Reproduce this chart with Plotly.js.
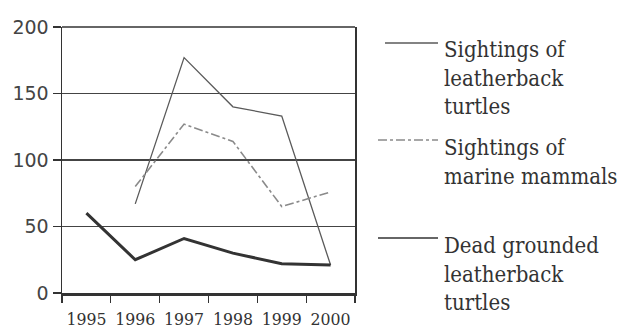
<!DOCTYPE html>
<html>
<head>
<meta charset="utf-8">
<script src="https://cdn.plot.ly/plotly-3.0.1.min.js"></script>
<style>html,body{margin:0;padding:0;background:#fff;}#chart{width:619px;height:335px;}</style>
</head>
<body>
<div id="chart"></div>
<script>
var years = ['1995', '1996', '1997', '1998', '1999', '2000'];
var leatherbackSightings = [null, 67, 177, 140, 133, 21];
var marineMammalSightings = [null, 80, 127, 114, 65, 76];
var deadGroundedTurtles = [60, 25, 41, 30, 22, 21];
var yTicks = [0, 50, 100, 150, 200];
var legendNames = [
  'Sightings of<br>leatherback<br>turtles',
  'Sightings of<br>marine mammals',
  'Dead grounded<br>leatherback<br>turtles'
];

var serif = '"DejaVu Serif Condensed", "DejaVu Serif", serif';
var traces = [
  {x: years, y: leatherbackSightings, type: 'scatter', mode: 'lines', name: legendNames[0],
   line: {color: '#5a5a5a', width: 1.3}, connectgaps: false},
  {x: years, y: marineMammalSightings, type: 'scatter', mode: 'lines', name: legendNames[1],
   line: {color: '#8a8a8a', width: 1.6, dash: 'dashdot'}},
  {x: years, y: deadGroundedTurtles, type: 'scatter', mode: 'lines', name: legendNames[2],
   line: {color: '#333', width: 3}}
];

// legend geometry helpers (pixel -> paper)
var L = 62, R = 355, T = 27, B = 293;
function px(x) { return (x - L) / (R - L); }
function py(y) { return (B - y) / (B - T); }

var legendSamples = [
  {x0: 385, x1: 438, y: 43, color: '#5a5a5a', width: 1.3, dash: 'solid'},
  {x0: 378, x1: 438, y: 140, color: '#8a8a8a', width: 1.4, dash: 'dashdot'},
  {x0: 378, x1: 438, y: 238, color: '#333', width: 1.5, dash: 'solid'}
];
var legendTextTop = [35, 133, 231];

var shapes = [
  {type: 'line', xref: 'paper', yref: 'paper', x0: 0, x1: 1, y0: 1, y1: 1,
   line: {color: '#333', width: 1.5}}
];
legendSamples.forEach(function (s) {
  shapes.push({type: 'line', xref: 'paper', yref: 'paper', x0: px(s.x0), x1: px(s.x1),
    y0: py(s.y), y1: py(s.y), line: {color: s.color, width: s.width, dash: s.dash}});
});
var annotations = legendNames.map(function (n, i) {
  return {xref: 'paper', yref: 'paper', x: px(442), y: py(legendTextTop[i]),
    xanchor: 'left', yanchor: 'top', align: 'left', showarrow: false, text: n,
    font: {family: serif, size: 22, color: '#333'}};
});

var layout = {
  width: 619, height: 335,
  margin: {l: L, r: 619 - R, t: T, b: 335 - B, pad: 0},
  paper_bgcolor: '#fff', plot_bgcolor: '#fff',
  showlegend: false,
  xaxis: {type: 'category', range: [-0.5, 5.5], tickson: 'boundaries',
    ticks: 'outside', ticklen: 7, tickwidth: 1.3, tickcolor: '#333', tickangle: 0,
    showline: true, linecolor: '#333', linewidth: 2.8, showgrid: false, zeroline: false,
    tickfont: {family: serif, size: 17.5, color: '#333'}, ticklabelstandoff: 8},
  yaxis: {range: [0, 200], tickvals: yTicks, ticks: 'outside', ticklen: 8, tickwidth: 1.3,
    tickcolor: '#333', showline: true, mirror: true, linecolor: '#333', linewidth: 1.5,
    showgrid: true, gridcolor: '#444', gridwidth: 1.3, zeroline: false,
    tickfont: {family: '"DejaVu Sans", sans-serif', size: 19, color: '#444'}},
  shapes: shapes,
  annotations: annotations
};

Plotly.newPlot('chart', traces, layout, {displayModeBar: false, staticPlot: true});
</script>
</body>
</html>
